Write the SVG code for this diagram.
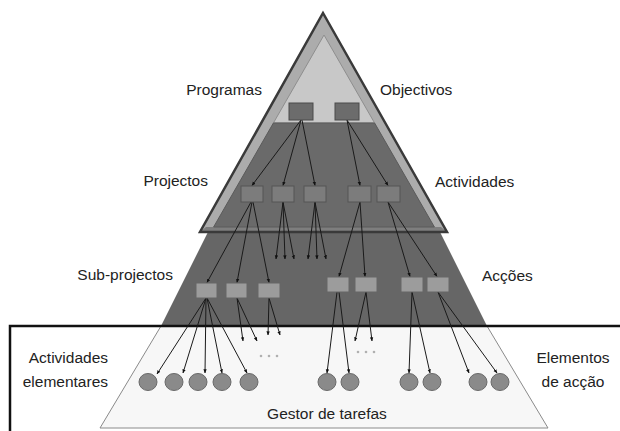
<svg xmlns="http://www.w3.org/2000/svg" width="620" height="431" viewBox="0 0 620 431">
<defs>
<style>
.lbl{font-family:"Liberation Sans",Arial,sans-serif;font-size:15.5px;fill:#222}
.b1{fill:#6c6c6c;stroke:#4a4a4a;stroke-width:1}
.b2{fill:#7c7c7c;stroke:#555;stroke-width:1}
.b3{fill:#9c9c9c;stroke:#666;stroke-width:1}
.c{fill:#8a8a8a;stroke:#6a6a6a;stroke-width:1}
.ln{stroke:#1a1a1a;stroke-width:1;fill:none;marker-end:url(#ah)}
.dd{fill:#b0b0b0}
</style>
<marker id="ah" viewBox="0 0 6 6" refX="5.5" refY="3" markerWidth="4" markerHeight="4" markerUnits="userSpaceOnUse" orient="auto">
<path d="M0,0.5 L6,3 L0,5.5z" fill="#111"/>
</marker>
</defs>
<rect width="620" height="431" fill="#fff"/>

<!-- bottom light trapezoid -->
<g id="layer-tasks">
<polygon points="161,326 487,326 548,428 100,428" fill="#f7f7f7" stroke="#8a8a8a" stroke-width="1"/>
</g>
<!-- dark trapezoid -->
<g id="layer-sub">
<polygon points="211,226 437,226 487,326 161,326" fill="#666"/>
</g>
<!-- top triangle -->
<g id="layer-top">
<polygon points="323,13 447,232 200,232" fill="#acacac"/>
<polygon points="206,227 441,227 447,232 200,232" fill="#7e7e7e"/>
<polygon points="324,35 374.6,123 273.4,123" fill="#c8c8c8" stroke="#8e8e8e" stroke-width="1"/>
<polygon points="273.4,123 374.6,123 434.4,227 213.6,227" fill="#6a6a6a" stroke="#5a5a5a" stroke-width="1"/>
<polygon points="323,13 447,232 200,232" fill="none" stroke="#3a3a3a" stroke-width="2.5" stroke-linejoin="miter"/>
</g>

<!-- frame -->
<rect x="10" y="326" width="630" height="130" fill="none" stroke="#111" stroke-width="2.5"/>

<!-- labels -->
<g id="labels">
<text class="lbl" x="262" y="95" text-anchor="end">Programas</text>
<text class="lbl" x="380" y="95">Objectivos</text>
<text class="lbl" x="208" y="186" text-anchor="end">Projectos</text>
<text class="lbl" x="435" y="187">Actividades</text>
<text class="lbl" x="173" y="280" text-anchor="end">Sub-projectos</text>
<text class="lbl" x="482" y="281">Acções</text>
<text class="lbl" x="108" y="363" text-anchor="end">Actividades</text>
<text class="lbl" x="108" y="387" text-anchor="end">elementares</text>
<text class="lbl" x="573" y="363" text-anchor="middle">Elementos</text>
<text class="lbl" x="573" y="387" text-anchor="middle">de acção</text>
<text class="lbl" x="327" y="419" text-anchor="middle">Gestor de tarefas</text>
</g>

<!-- connectors -->
<g id="connectors">
<line class="ln" x1="301" y1="120" x2="252" y2="185.5"/>
<line class="ln" x1="301" y1="120" x2="283" y2="185.5"/>
<line class="ln" x1="302" y1="120" x2="315" y2="185.5"/>
<line class="ln" x1="347" y1="120" x2="360" y2="185.5"/>
<line class="ln" x1="347" y1="120" x2="388" y2="185.5"/>

<line class="ln" x1="251" y1="202" x2="207" y2="282.5"/>
<line class="ln" x1="252" y1="202" x2="237" y2="282.5"/>
<line class="ln" x1="253" y1="202" x2="269" y2="282.5"/>
<line class="ln" x1="283" y1="202" x2="276" y2="259"/>
<line class="ln" x1="283" y1="202" x2="285" y2="259"/>
<line class="ln" x1="283" y1="202" x2="294" y2="259"/>
<line class="ln" x1="315" y1="202" x2="308" y2="259"/>
<line class="ln" x1="315" y1="202" x2="317" y2="259"/>
<line class="ln" x1="315" y1="202" x2="326" y2="259"/>
<line class="ln" x1="360" y1="202" x2="339" y2="276.5"/>
<line class="ln" x1="360" y1="202" x2="365" y2="276.5"/>
<line class="ln" x1="388" y1="202" x2="410" y2="276.5"/>
<line class="ln" x1="388" y1="202" x2="437" y2="276.5"/>

<line class="ln" x1="206" y1="298" x2="157" y2="374"/>
<line class="ln" x1="206" y1="298" x2="183" y2="373"/>
<line class="ln" x1="206" y1="298" x2="205" y2="373"/>
<line class="ln" x1="207" y1="298" x2="222" y2="373"/>
<line class="ln" x1="207" y1="298" x2="247" y2="373"/>
<line class="ln" x1="237" y1="298" x2="243" y2="341"/>
<line class="ln" x1="237" y1="298" x2="257" y2="341"/>
<line class="ln" x1="269" y1="298" x2="268" y2="335"/>
<line class="ln" x1="269" y1="298" x2="280" y2="335"/>
<line class="ln" x1="337" y1="292" x2="327" y2="373"/>
<line class="ln" x1="339" y1="292" x2="349" y2="373"/>
<line class="ln" x1="366" y1="292" x2="355" y2="341"/>
<line class="ln" x1="366" y1="292" x2="372" y2="341"/>
<line class="ln" x1="412" y1="292" x2="409" y2="373"/>
<line class="ln" x1="412" y1="292" x2="430" y2="373"/>
<line class="ln" x1="438" y1="292" x2="469" y2="373"/>
<line class="ln" x1="438" y1="292" x2="497" y2="373"/>
</g>

<!-- ellipsis marks -->
<g id="more-1"><circle class="dd" cx="261" cy="356" r="1.3"/><circle class="dd" cx="269" cy="356" r="1.3"/><circle class="dd" cx="277" cy="356" r="1.3"/></g>
<g id="more-2"><circle class="dd" cx="358" cy="352" r="1.3"/><circle class="dd" cx="366" cy="352" r="1.3"/><circle class="dd" cx="374" cy="352" r="1.3"/></g>

<!-- level 1 -->
<g id="prog"><rect class="b1" x="289" y="103" width="24" height="17"/></g>
<g id="obj"><rect class="b1" x="335" y="103" width="24" height="17"/></g>
<!-- level 2 -->
<g id="proj-a"><rect class="b2" x="241" y="186" width="22" height="16"/></g>
<g id="proj-b"><rect class="b2" x="272" y="186" width="22" height="16"/></g>
<g id="proj-c"><rect class="b2" x="304" y="186" width="22" height="16"/></g>
<g id="act-d"><rect class="b2" x="348" y="186" width="23" height="16"/></g>
<g id="act-e"><rect class="b2" x="377" y="186" width="23" height="16"/></g>
<!-- level 3 -->
<g id="sub-1"><rect class="b3" x="196" y="283" width="21" height="15"/></g>
<g id="sub-2"><rect class="b3" x="226" y="283" width="21" height="15"/></g>
<g id="sub-3"><rect class="b3" x="258" y="283" width="22" height="15"/></g>
<g id="acc-1"><rect class="b3" x="327" y="277" width="22" height="15"/></g>
<g id="acc-2"><rect class="b3" x="355" y="277" width="22" height="15"/></g>
<g id="acc-3"><rect class="b3" x="401" y="277" width="22" height="15"/></g>
<g id="acc-4"><rect class="b3" x="427" y="277" width="22" height="15"/></g>
<!-- level 4 -->
<g id="el-1"><ellipse class="c" cx="148" cy="382" rx="9" ry="8.5"/></g>
<g id="el-2"><ellipse class="c" cx="174" cy="382" rx="9" ry="8.5"/></g>
<g id="el-3"><ellipse class="c" cx="198" cy="382" rx="9" ry="8.5"/></g>
<g id="el-4"><ellipse class="c" cx="222" cy="382" rx="9" ry="8.5"/></g>
<g id="el-5"><ellipse class="c" cx="249" cy="382" rx="9" ry="8.5"/></g>
<g id="el-6"><ellipse class="c" cx="327" cy="382" rx="9" ry="8.5"/></g>
<g id="el-7"><ellipse class="c" cx="350" cy="382" rx="9" ry="8.5"/></g>
<g id="el-8"><ellipse class="c" cx="409" cy="382" rx="9" ry="8.5"/></g>
<g id="el-9"><ellipse class="c" cx="432" cy="382" rx="9" ry="8.5"/></g>
<g id="el-10"><ellipse class="c" cx="478" cy="382" rx="9" ry="8.5"/></g>
<g id="el-11"><ellipse class="c" cx="500" cy="382" rx="9" ry="8.5"/></g>
</svg>
